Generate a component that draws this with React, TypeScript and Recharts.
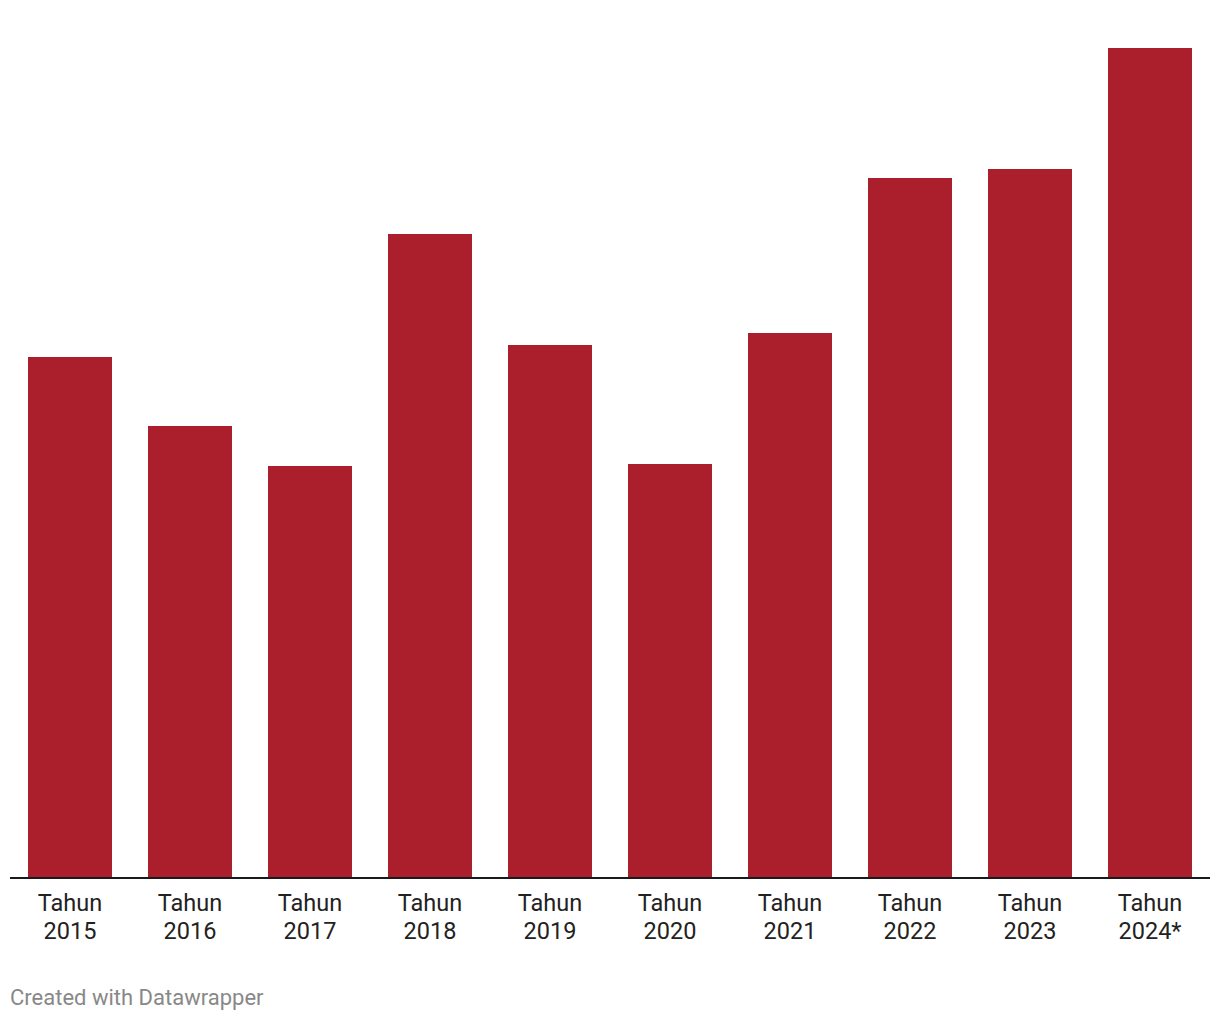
import React from 'react';
import { BarChart, Bar, XAxis, YAxis } from 'recharts';

const years = ['2015', '2016', '2017', '2018', '2019', '2020', '2021', '2022', '2023', '2024*'];
const values = [521, 452, 412, 644, 533, 414, 545, 700, 709, 830];

const data = years.map((year, i) => ({ year, value: values[i] }));

const YearTick = (props: any) => {
  const { x, y, payload } = props;
  return (
    <text x={x} y={y} textAnchor="middle" fill="#222222" fontSize={23.5} fontFamily="Roboto">
      <tspan x={x} dy={25}>Tahun</tspan>
      <tspan x={x} dy={28}>{payload.value}</tspan>
    </text>
  );
};

const App: React.FC = () => {
  return (
    <div style={{ position: 'absolute', left: 0, top: 0, width: 1220, height: 1020, background: '#fff' }}>
      <BarChart
        width={1220}
        height={960}
        data={data}
        margin={{ top: 48, right: 10, bottom: 0, left: 10 }}
        barCategoryGap="15%"
      >
        <XAxis
          dataKey="year"
          tickLine={false}
          axisLine={{ stroke: '#1a1a1a', strokeWidth: 2 }}
          tick={<YearTick />}
          interval={0}
          height={82}
        />
        <YAxis hide domain={[0, 830]} />
        <Bar dataKey="value" fill="#ab1f2d" isAnimationActive={false} />
      </BarChart>
      <div
        style={{
          position: 'absolute',
          left: 10,
          top: 985,
          fontFamily: 'Roboto',
          fontSize: 22,
          color: '#888888',
          lineHeight: '26px',
        }}
      >
        Created with Datawrapper
      </div>
    </div>
  );
};

export default App;
